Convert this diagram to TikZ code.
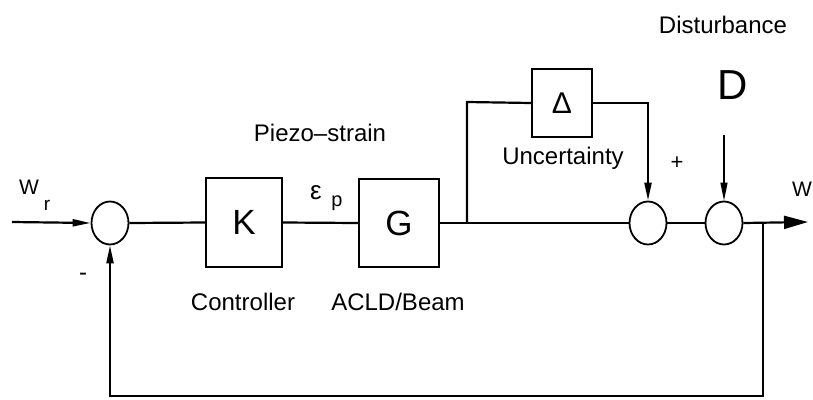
\documentclass[tikz,border=0pt]{standalone}
\usepackage{fontspec}
\setmainfont{Liberation Sans}
\usetikzlibrary{shapes.geometric,arrows.meta}
\begin{document}
\begin{tikzpicture}[x=1pt,y=-1pt,
  sumnode/.style={ellipse,draw,line width=1.8pt,minimum width=37pt,minimum height=43pt,inner sep=0pt},
  blk/.style={rectangle,draw,line width=2pt,inner sep=0pt},
  wire/.style={line width=2.2pt},
  arr/.style={wire,-{Triangle[length=18pt,width=7pt]}},
  lbl/.style={font=\fontsize{24}{28}\selectfont,inner sep=0pt}
]
\useasboundingbox (0,0) rectangle (813,399);
% nodes
\coordinate (start) at (12,222);
\node[sumnode] (s1) at (110,223) {};
\node[blk,minimum width=76pt,minimum height=89pt] (K) at (244,222.5) {\fontsize{35}{40}\selectfont K};
\node[blk,minimum width=80pt,minimum height=88pt] (G) at (399,223) {\fontsize{35}{40}\selectfont G};
\node[blk,minimum width=60pt,minimum height=68pt] (U) at (562,103) {\fontsize{30}{34}\selectfont Δ};
\node[sumnode] (s2) at (648,223) {};
\node[sumnode] (s3) at (724,223) {};
\coordinate (out) at (808,222);
\coordinate (br) at (467,222);
\coordinate (brtop) at (467,102);
\coordinate (dtop) at (724,135);
\coordinate (fb) at (763,222);
\coordinate (fbbot) at (763,396);
\coordinate (fbl) at (110,396);
% connectors
\draw[arr] (start) -- (s1.west);
\draw[wire] (s1.east) -- (K.west);
\draw[wire] (K.east) -- (G.west);
\draw[wire] (G.east) -- (s2.west);
\draw[wire] (br) -- (brtop) -- (U.west);
\draw[arr] (U.east) -| (s2.north);
\draw[wire] (s2.east) -- (s3.west);
\draw[line width=1.1pt,-{Triangle[length=18pt,width=7pt]}] (dtop) -- (s3.north);
\draw[wire,-{Triangle[length=24pt,width=13pt]}] (s3.east) -- (out);
\draw[arr] (fb) -- (fbbot) -- (fbl) -- (s1.south);
% labels
\node[lbl] (dist) at (723,25) {Disturbance};
\node[inner sep=0pt,font=\fontsize{42}{46}\selectfont] (D) at (733,85) {D};
\node[lbl,font=\fontsize{22}{26}\selectfont] (plus) at (677,163) {+};
\node[lbl,font=\fontsize{21}{24}\selectfont] (W) at (802,189) {W};
\node[lbl] (unc) at (563,158) {Uncertainty};
\node[lbl] (pz) at (320,133) {Piezo--strain};
\node[lbl,font=\fontsize{26}{30}\selectfont] (eps) at (316,193) {ε};
\node[lbl,font=\fontsize{20}{24}\selectfont] (p) at (337,203) {p};
\node[lbl] (ctl) at (243,302) {Controller};
\node[lbl] (acld) at (398,302) {ACLD/Beam};
\node[lbl] (minus) at (83,277) {-};
\node[lbl,font=\fontsize{21}{24}\selectfont] (wr) at (29,187) {W};
\node[lbl,font=\fontsize{19}{22}\selectfont] (r) at (47,205) {r};
\end{tikzpicture}
\end{document}
